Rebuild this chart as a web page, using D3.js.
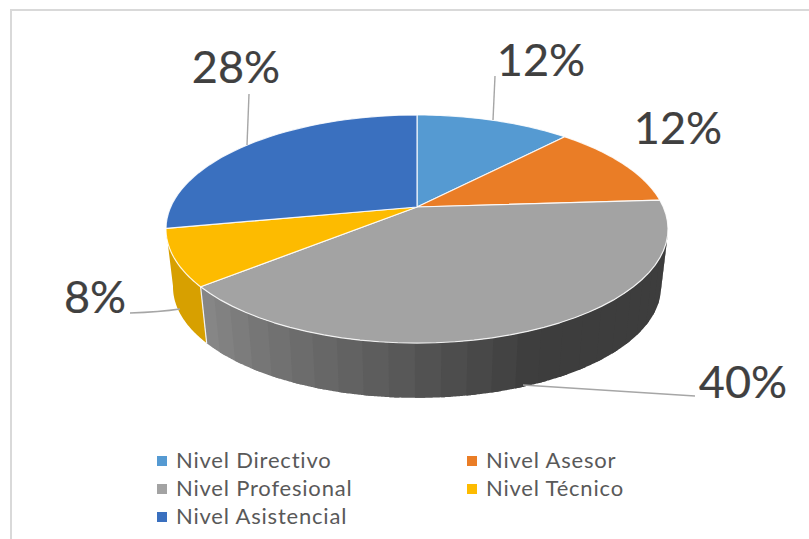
<!DOCTYPE html>
<html>
<head>
<meta charset="utf-8">
<script src="https://cdn.jsdelivr.net/npm/d3@7"></script>
<style>
html,body{margin:0;padding:0;background:#fff;overflow:hidden}
svg{display:block}
</style>
</head>
<body>
<svg id="chart"></svg>
<script>
var categories = ["Nivel Directivo","Nivel Asesor","Nivel Profesional","Nivel Técnico","Nivel Asistencial"];
var values = [12,12,40,8,28];
var colors = ["#559ad2","#ea7d26","#a3a3a3","#fdbb00","#3a70bf"];
var sideColors = [null,null,null,"#d7a000",null];

var width = 809, height = 539;
var svg = d3.select("#chart").attr("width",width).attr("height",height);

// chart frame, only top and left show
svg.append("path")
  .attr("d","M11,539V10H809")
  .attr("fill","none")
  .attr("stroke","#d9d9d9")
  .attr("stroke-width",2);

// tilted disc: circle through a perspective, apex is not in the middle of the ellipse
var cx=417, cy=207;
var persp=-0.193, ax=246.3, by=109.8;
var depthY=58.6, depthScale=0.972;
function topPt(a){
  var u=Math.sin(a), v=-Math.cos(a), w=1+persp*v;
  return [cx+ax*u/w, cy+by*v/w];
}
function botPt(a){
  var p=topPt(a);
  return [cx+(p[0]-cx)*depthScale, cy+depthY+(p[1]-cy)*depthScale];
}
var line=d3.line();
var rad=function(d){return d*Math.PI/180;};
var leftEdge=rad(259.2), rightEdge=rad(101);

var slices=d3.pie().sort(null)(values);

function arcPts(fn,a0,a1){
  return d3.range(0,41).map(function(i){return fn(a0+(a1-a0)*i/40);});
}

// side wall, grey slice is in stripes getting darker to the right
var shade=d3.scaleLinear().domain([rad(230),rad(157)])
  .range(["#888888","#3d3d3d"]).clamp(true);
var gs=slices[2];
var stripe=rad(5);
var starts=d3.range(gs.endAngle-stripe,Math.max(gs.startAngle,rightEdge)-stripe,-stripe);
var walls=svg.append("g");
// left to right, each stripe runs a bit under the next one so no seams show
starts.forEach(function(a){
  var b=a+stripe;
  var a0=Math.max(a-stripe*0.4,rightEdge);
  walls.append("path")
    .attr("d",line(arcPts(topPt,a0,b).concat(arcPts(botPt,b,a0)))+"Z")
    .attr("fill",shade(a+stripe/2));
});
slices.forEach(function(s,i){
  if(!sideColors[i])return;
  var a0=s.startAngle, a1=Math.min(s.endAngle,leftEdge);
  walls.append("path")
    .attr("d",line(arcPts(topPt,a0,a1).concat(arcPts(botPt,a1,a0)))+"Z")
    .attr("fill",sideColors[i]);
});
// divider on the wall
walls.append("path")
  .attr("d",line([topPt(gs.endAngle),botPt(gs.endAngle)]))
  .attr("stroke","#f2f2f2")
  .attr("stroke-width",1.2);

// top face
svg.append("g").selectAll("path")
  .data(slices)
  .join("path")
  .attr("d",function(d){
    return line([[cx,cy]].concat(arcPts(topPt,d.startAngle,d.endAngle)))+"Z";
  })
  .attr("fill",function(d,i){return colors[i];})
  .attr("stroke","#fff")
  .attr("stroke-opacity",0.85)
  .attr("stroke-width",1.2)
  .attr("stroke-linejoin","round");

// leader lines
var leaders=["M495,76L493,120","M523,385L695,396","M130,313Q160,312 180,309","M249,94L247,145"];
svg.append("g").selectAll("path")
  .data(leaders)
  .join("path")
  .attr("d",function(d){return d;})
  .attr("fill","none")
  .attr("stroke","#a6a6a6")
  .attr("stroke-width",1.4);

// value labels
var labelPos=[[541,76],[678,144],[743,398],[95,313],[236,83]];
svg.append("g").selectAll("text")
  .data(values)
  .join("text")
  .attr("x",function(d,i){return labelPos[i][0];})
  .attr("y",function(d,i){return labelPos[i][1];})
  .attr("text-anchor","middle")
  .attr("font-family","Lato, 'Open Sans', sans-serif")
  .attr("font-size",45)
  .attr("fill","#404040")
  .attr("stroke","#404040")
  .attr("stroke-width",0.2)
  .text(function(d){return d+"%";});

// legend
var legendCol=[157,467,157,467,157], legendRow=[461,461,489,489,517];
var legend=svg.append("g").selectAll("g")
  .data(categories)
  .join("g")
  .attr("transform",function(d,i){return "translate("+legendCol[i]+","+legendRow[i]+")";});
legend.append("rect")
  .attr("x",0).attr("y",-5)
  .attr("width",10).attr("height",10)
  .attr("fill",function(d,i){return colors[i];});
legend.append("text")
  .attr("x",19).attr("y",7)
  .attr("font-family","Lato, 'Open Sans', sans-serif")
  .attr("font-size",22)
  .attr("letter-spacing",0.8)
  .attr("fill","#595959")
  .text(function(d){return d;});
</script>
</body>
</html>
